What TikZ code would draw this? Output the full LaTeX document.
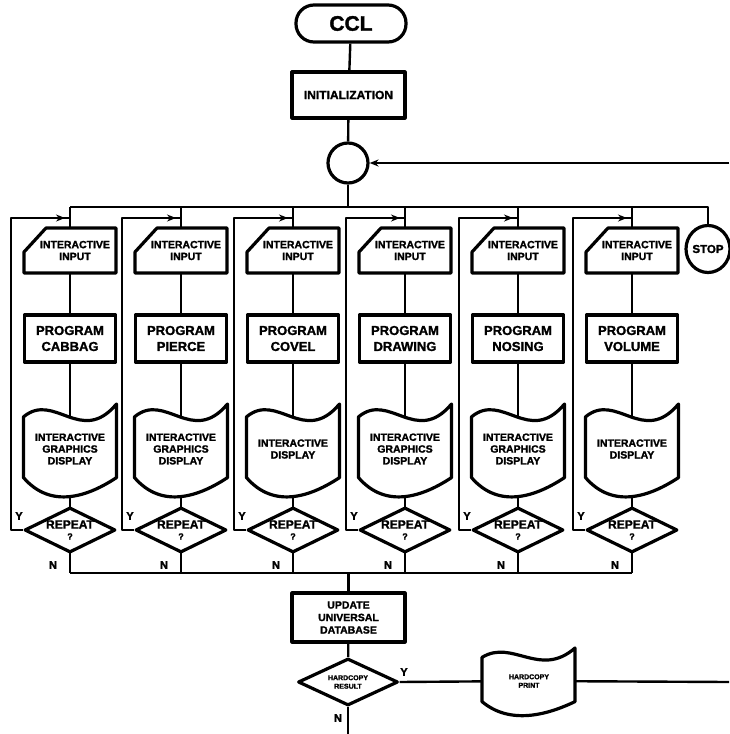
\documentclass[tikz,border=0pt]{standalone}
\usepackage{fontspec}
\setmainfont{Liberation Sans}[BoldFeatures={FakeBold=1.6}]
\usetikzlibrary{shapes.geometric, arrows.meta, decorations.markings, calc}
\pgfdeclarelayer{background}
\pgfsetlayers{background,main}
\newcommand{\tapepath}[4]{%
  \draw[shp] ({#1-#3/2},{#2+0.14*#4}) .. controls ({#1-#3/2+0.33*#3},{#2-0.14*#4}) and ({#1-#3/2+0.62*#3},{#2+0.46*#4}) .. ({#1+#3/2},{#2})
   -- ({#1+#3/2},{#2+0.8*#4}) .. controls ({#1-#3/2+0.7*#3},{#2+1.0*#4}) and ({#1-#3/2+0.3*#3},{#2+1.15*#4}) .. ({#1-#3/2},{#2+0.8*#4}) -- cycle;}
\newcommand{\inpath}[1]{%
  \draw[shp] ({#1-46},252) -- ({#1-24},228) -- ({#1+46},228) -- ({#1+46},273) -- ({#1-46},273) -- cycle;}
\tikzset{
  shp/.style={draw, line width=3.2pt, fill=white, line join=round},
  con/.style={line width=2.4pt, line join=round},
  txt/.style={inner sep=0pt, align=center},
  box/.style={shp, rectangle, inner sep=0pt, align=center},
  dia/.style={shp, diamond, aspect=2, inner sep=0pt, align=center},
  lbl/.style={inner sep=0pt, font=\bfseries\fontsize{11}{12}\selectfont},
  looparrow/.style={postaction={decorate}, decoration={markings, mark=at position -5pt with {\arrow{Stealth[length=9pt,width=7pt]}}}},
  fsmall/.style={font=\bfseries\fontsize{10.5}{11.8}\selectfont},
}
\begin{document}
\begin{tikzpicture}[x=1pt,y=-1pt]
\useasboundingbox (0,0) rectangle (729,734);
% top part
\node[box, rectangle, rounded corners=18pt, minimum width=110pt, minimum height=37pt, font=\bfseries\fontsize{21}{24}\selectfont] (ccl) at (351,23.5) {CCL};
\node[box, minimum width=113pt, minimum height=46pt, font=\bfseries\fontsize{12}{14}\selectfont] (init) at (348.5,95) {INITIALIZATION};
\node[shp, circle, minimum size=40pt, inner sep=0pt] (circ) at (348,163) {};
\node[shp, ellipse, inner sep=0pt, minimum width=42pt, minimum height=47pt, font=\bfseries\fontsize{11.5}{13}\selectfont] (stop) at (708,249) {STOP};
\coordinate (eR1) at (729,163);
\coordinate (tbS) at (708,207);
% columns
\foreach \i/\cx/\prg/\dsp in {1/70/CABBAG/{INTERACTIVE\\GRAPHICS\\DISPLAY},2/181/PIERCE/{INTERACTIVE\\GRAPHICS\\DISPLAY},3/293/COVEL/{INTERACTIVE\\DISPLAY},4/405/DRAWING/{INTERACTIVE\\GRAPHICS\\DISPLAY},5/518/NOSING/{INTERACTIVE\\GRAPHICS\\DISPLAY},6/632/VOLUME/{INTERACTIVE\\DISPLAY}}{
  \coordinate (tb\i) at (\cx,207);
  \coordinate (lj\i) at (\cx,218);
  \coordinate (bb\i) at (\cx,573);
  \inpath{\cx}
  \node[txt, fsmall, minimum width=92pt, minimum height=45pt] (in\i) at (\cx,250.5) {\hspace*{10pt}INTERACTIVE\\\hspace*{10pt}INPUT};
  \node[box, minimum width=91pt, minimum height=47pt, font=\bfseries\fontsize{13}{16}\selectfont] (pr\i) at (\cx,338.5) {PROGRAM\\\prg};
  \tapepath{\cx}{404}{93}{92}
  \node[txt, fsmall] (di\i) at (\cx,449) {\dsp};
  \node[dia, minimum width=91pt, minimum height=45pt, font=\bfseries\fontsize{12}{12}\selectfont] (rp\i) at (\cx,530) {REPEAT\\[-1pt]{\fontsize{9}{9}\selectfont ?}};
  \node[lbl] (y\i) at (\cx-51,516) {Y};
  \node[lbl] (n\i) at (\cx-17,565) {N};
}
% lower part
\node[box, minimum width=113pt, minimum height=49pt, font=\bfseries\fontsize{10.5}{12.5}\selectfont] (upd) at (348.5,617.5) {UPDATE\\UNIVERSAL\\DATABASE};
\node[dia, minimum width=100pt, minimum height=47pt, font=\bfseries\fontsize{7}{8.5}\selectfont] (hc) at (348,682) {HARDCOPY\\RESULT};
\tapepath{528.5}{648}{93}{67}
\node[txt, font=\bfseries\fontsize{7}{8.5}\selectfont] (prt) at (529,681) {HARDCOPY\\PRINT};
\node[lbl] (hy) at (404,672) {Y};
\node[lbl] (hn) at (338,718) {N};
\coordinate (eR2) at (729,682);
\coordinate (eB) at (348,734);
% connectors
\begin{pgfonlayer}{background}
\draw[con] (ccl) -- (init);
\draw[con] (init) -- (circ);
\draw[con] (circ) -- (circ |- tb1);
\draw[con] (tb1) -- (tbS) -- (stop);
\foreach \i in {1,...,6}{
  \draw[con] (tb\i) -- (in\i.center);
  \draw[con] (in\i.center) -- (pr\i.center);
  \draw[con] (pr\i.center) -- (di\i.center);
  \draw[con] (di\i.center) -- (rp\i.center);
  \draw[con] (rp\i.center) -- (bb\i);
  \draw[con, looparrow] (rp\i.west) -- ++(-12,0) |- (lj\i);
}
\draw[con] (bb1) -- (bb6);
\draw[con] (upd |- bb1) -- (upd);
\draw[con] (upd) -- (hc);
\draw[con] (hc.east) -- (prt.center);
\draw[con] (prt.center) -- (eR2);
\draw[con] (hc.south) -- (eB);
\end{pgfonlayer}
\draw[con, -{Stealth[length=9pt,width=7pt]}] (eR1) -- (circ);
\end{tikzpicture}
\end{document}
